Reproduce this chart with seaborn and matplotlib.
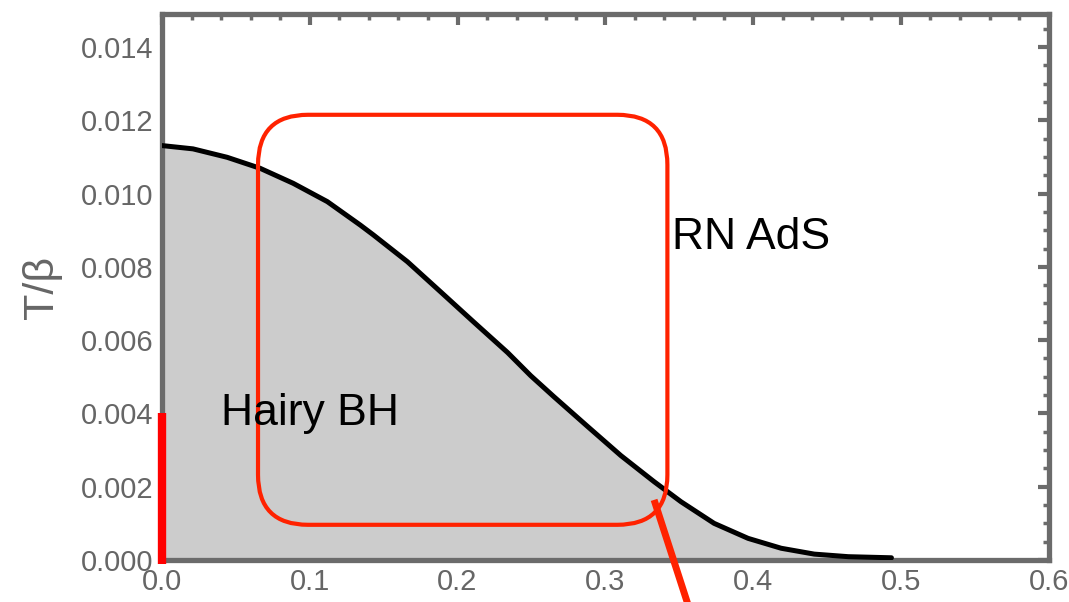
import numpy as np
import pandas as pd
import matplotlib
matplotlib.use("Agg")
import matplotlib.pyplot as plt
import seaborn as sns
from matplotlib.patches import FancyBboxPatch
from matplotlib.ticker import MultipleLocator, FixedLocator

# ---- data ----
mu = [0.0, 0.021, 0.0441, 0.0664, 0.0888, 0.1119, 0.1342, 0.1431, 0.1661,
      0.1885, 0.2108, 0.2339, 0.2495, 0.2651, 0.2881, 0.3105, 0.3329, 0.3512,
      0.3736, 0.3966, 0.419, 0.4414, 0.4644, 0.4936]
T_over_beta = [0.01131, 0.01122, 0.01099, 0.01069, 0.01028, 0.00978, 0.00914,
               0.00887, 0.00814, 0.00732, 0.0065, 0.00566, 0.00503, 0.00446,
               0.00364, 0.00285, 0.00214, 0.00159, 0.001, 0.00059, 0.00032,
               0.00016, 0.00009, 0.00006]
x_ticks = [0.0, 0.1, 0.2, 0.3, 0.4, 0.5, 0.6]
x_tick_labels = ["0.0", "0.1", "0.2", "0.3", "0.4", "0.5", "0.6"]
y_ticks = [0.000, 0.002, 0.004, 0.006, 0.008, 0.010, 0.012, 0.014]
y_tick_labels = ["0.000", "0.002", "0.004", "0.006", "0.008", "0.010", "0.012", "0.014"]
region_labels = ["RN AdS", "Hairy BH"]
region_label_x = [0.345, 0.04]
region_label_y = [0.0088, 0.0040]
# highlight annotations (data coords)
vbar_x = [0.0, 0.0]
vbar_y = [-0.0001, 0.004]
pointer_x = [0.333, 0.359]
pointer_y = [0.00164, -0.0016]
box_x0, box_y0, box_x1, box_y1 = 0.065, 0.00096, 0.342, 0.01215

df = pd.DataFrame({"mu": mu, "T": T_over_beta})

sns.set_style("white")
plt.rcParams["font.family"] = ["Liberation Sans", "DejaVu Sans"]

frame_col = "#6b6b6b"
fig = plt.figure(figsize=(10.69, 6.02), dpi=100)
ax = fig.add_axes([0.1515, 0.0698, 0.981 - 0.1515, 0.9767 - 0.0698])

ax.fill_between(df["mu"], 0, df["T"], color="#cccccc", lw=0, zorder=1)
sns.lineplot(data=df, x="mu", y="T", ax=ax, color="black", lw=3.6, zorder=3,
             sort=False)
for l in ax.lines:
    l.set_solid_joinstyle("round")

ax.set_xlim(0, 0.6)
ax.set_ylim(0, 0.0149)

# red rounded box
xr = 0.6 / 887.0
yr = 0.0149 / 546.0
rad_px = 50
box = FancyBboxPatch((box_x0, box_y0), box_x1 - box_x0, box_y1 - box_y0,
                     boxstyle=f"round,pad=0,rounding_size={rad_px * xr}",
                     mutation_aspect=yr / xr, fill=False, ec="#ff2200", lw=3.0, zorder=4)
ax.add_patch(box)

ax.plot(vbar_x, vbar_y, color="#ff0000", lw=6, solid_capstyle="butt", zorder=5, clip_on=False)
ax.plot(pointer_x, pointer_y, color="#ff2200", lw=5, solid_capstyle="butt", zorder=5, clip_on=False)

ax.text(region_label_x[0], region_label_y[0], region_labels[0], fontsize=32, color="black",
        ha="left", va="center", zorder=6)
ax.text(region_label_x[1], region_label_y[1], region_labels[1], fontsize=32, color="black",
        ha="left", va="center", zorder=6)

ax.xaxis.set_major_locator(FixedLocator(x_ticks))
ax.set_xticklabels(x_tick_labels)
ax.yaxis.set_major_locator(FixedLocator(y_ticks))
ax.set_yticklabels(y_tick_labels)
ax.xaxis.set_minor_locator(MultipleLocator(0.02))
ax.yaxis.set_minor_locator(MultipleLocator(0.0005))

ax.tick_params(which="both", direction="in", top=True, right=True, color=frame_col,
               labelcolor="#666666", labelsize=21)
ax.tick_params(which="major", length=8, width=3)
ax.tick_params(which="minor", length=4.5, width=2.5)
ax.tick_params(axis="x", pad=6)
ax.tick_params(axis="y", pad=6)

for s in ax.spines.values():
    s.set_color(frame_col)
    s.set_linewidth(3.8)
    s.set_visible(True)

ax.set_xlabel("")
ax.set_ylabel("T/β", fontsize=31, color="#666666", labelpad=14)

fig.savefig("out.png", dpi=100)
